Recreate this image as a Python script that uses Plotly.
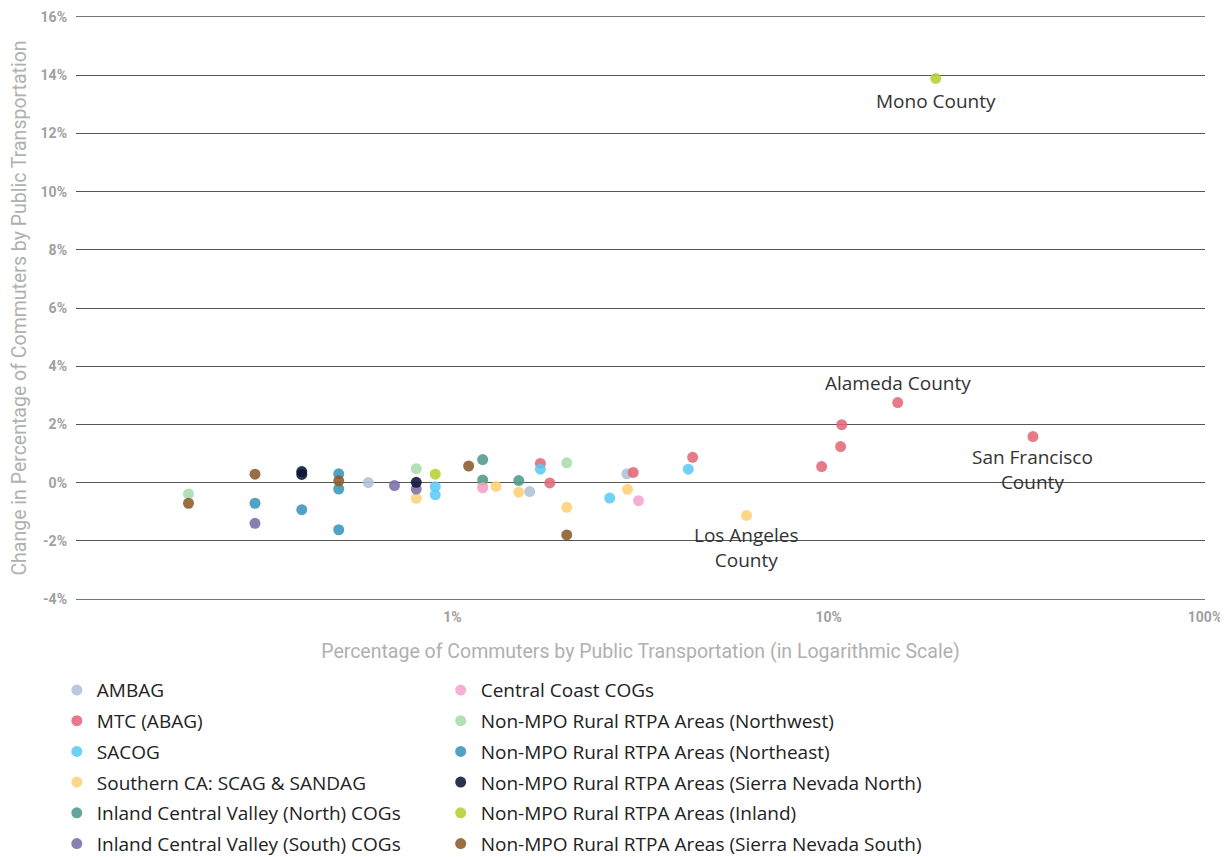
import math
import plotly.graph_objects as go

# ---- data (x: % commuters by public transportation, y: change in %) ----
series_names = [
    "AMBAG", "MTC (ABAG)", "SACOG", "Southern CA: SCAG & SANDAG",
    "Inland Central Valley (North) COGs", "Inland Central Valley (South) COGs",
    "Central Coast COGs", "Non-MPO Rural RTPA Areas (Northwest)",
    "Non-MPO Rural RTPA Areas (Northeast)", "Non-MPO Rural RTPA Areas (Sierra Nevada North)",
    "Non-MPO Rural RTPA Areas (Inland)", "Non-MPO Rural RTPA Areas (Sierra Nevada South)",
]
ambag_x = [0.598, 1.606, 2.909]
ambag_y = [0.00, -0.31, 0.30]
mtc_x = [1.714, 1.815, 3.024, 4.35, 9.58, 10.76, 10.83, 15.26, 34.9]
mtc_y = [0.66, -0.01, 0.35, 0.87, 0.55, 1.24, 1.99, 2.75, 1.58]
sacog_x = [0.901, 0.901, 1.714, 2.62, 4.235]
sacog_y = [-0.14, -0.42, 0.46, -0.53, 0.46]
socal_x = [0.802, 1.204, 1.307, 1.501, 2.014, 2.92, 6.05]
socal_y = [-0.54, -0.10, -0.13, -0.33, -0.85, -0.23, -1.13]
icvn_x = [1.204, 1.204, 1.501]
icvn_y = [0.79, 0.09, 0.07]
icvs_x = [0.299, 0.702, 0.802]
icvs_y = [-1.40, -0.10, -0.22]
ccoast_x = [1.204, 3.124]
ccoast_y = [-0.18, -0.62]
nw_x = [0.199, 0.802, 2.014]
nw_y = [-0.39, 0.48, 0.68]
ne_x = [0.299, 0.398, 0.499, 0.499, 0.499]
ne_y = [-0.71, -0.93, 0.30, -0.22, -1.62]
snn_x = [0.398, 0.398, 0.802]
snn_y = [0.38, 0.28, 0.01]
inland_x = [0.901, 19.26]
inland_y = [0.29, 13.89]
sns_x = [0.199, 0.299, 0.499, 1.105, 2.014]
sns_y = [-0.71, 0.29, 0.06, 0.57, -1.80]

series_x = [ambag_x, mtc_x, sacog_x, socal_x, icvn_x, icvs_x,
            ccoast_x, nw_x, ne_x, snn_x, inland_x, sns_x]
series_y = [ambag_y, mtc_y, sacog_y, socal_y, icvn_y, icvs_y,
            ccoast_y, nw_y, ne_y, snn_y, inland_y, sns_y]
colors = ["#aec0d8", "#e36877", "#5ccbf6", "#fdd176", "#4e9a8b", "#7b6da6",
          "#f4a4cf", "#a9dcab", "#3995bd", "#0e1636", "#b4d234", "#8b5a29"]

x_tickvals = [1, 10, 100]
x_ticktext = ["1%", "10%", "100%"]
y_tickvals = [-4, -2, 0, 2, 4, 6, 8, 10, 12, 14, 16]
y_ticktext = [f"{v}%" for v in y_tickvals]

labels = [  # (text, x, y, yshift)
    ("Mono County", 19.26, 13.89, -23),
    ("Alameda County", 15.26, 2.75, 20),
    ("San Francisco<br>County", 34.9, 1.58, -33),
    ("Los Angeles<br>County", 6.05, -1.13, -32),
]

fig = go.Figure()
for i, (name, xs, ys, c) in enumerate(zip(series_names, series_x, series_y, colors)):
    fig.add_trace(go.Scatter(
        x=xs, y=ys, mode="markers", name=name, legendgroup=name,
        marker=dict(color=c, size=11, opacity=0.88, line=dict(width=0)),
        legend="legend" if i < 6 else "legend2",
    ))

for text, lx, ly, ys in labels:
    fig.add_annotation(x=math.log10(lx), y=ly, text=text, showarrow=False,
                       yshift=ys, font=dict(family="Open Sans", size=19, color="#333333"))

narrow = "Liberation Sans Narrow, Roboto, sans-serif"
legend_common = dict(
    orientation="v", xref="paper", yref="paper", xanchor="left", yanchor="top",
    font=dict(family="Open Sans", size=19, color="#222222"),
    itemwidth=30, tracegroupgap=3, bgcolor="rgba(0,0,0,0)",
)
# page body has an 8px default margin, so the figure is sized/margined to compensate
fig.update_layout(
    width=1220, height=849,
    margin=dict(l=68, r=23, t=9, b=258, autoexpand=False),
    paper_bgcolor="white", plot_bgcolor="white",
    showlegend=True,
    legend=dict(x=-0.017, y=-0.124, **legend_common),
    legend2=dict(x=0.323, y=-0.124, **legend_common),
    xaxis=dict(
        type="log", range=[-1, 2], showgrid=False, zeroline=False,
        showline=True, mirror=True, linecolor="#777777", linewidth=1,
        tickvals=x_tickvals, ticktext=x_ticktext, ticks="", ticklabelstandoff=5,
        ticklabeloverflow="allow",
        tickfont=dict(family=narrow, size=14, color="#a0a0a0", weight="bold"),
        title=dict(text="Percentage of Commuters by Public Transportation (in Logarithmic Scale)",
                   font=dict(family=narrow, size=19.5, color="#b0b0b0"), standoff=20),
    ),
    yaxis=dict(
        range=[-4, 16], tickvals=y_tickvals, ticktext=y_ticktext,
        showgrid=True, gridcolor="#555555", gridwidth=1, zeroline=False, showline=False,
        ticks="", ticklabelstandoff=8,
        tickfont=dict(family=narrow, size=14, color="#a0a0a0", weight="bold"),
        title=dict(text="Change in Percentage of Commuters by Public Transportation",
                   font=dict(family=narrow, size=19.5, color="#b0b0b0"), standoff=14),
    ),
)

fig.write_html("out.html")
